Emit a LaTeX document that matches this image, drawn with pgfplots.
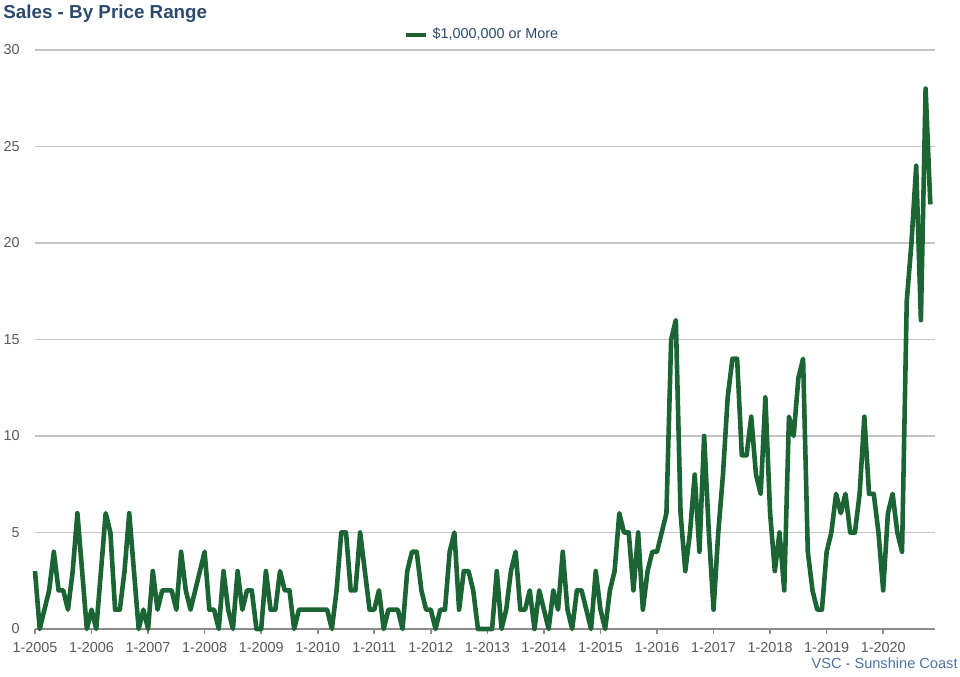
\documentclass[border=0pt]{standalone}
\usepackage{pgfplots}
\pgfplotsset{compat=1.18}
\usepackage{fontspec}
\setmainfont{Liberation Sans}

\definecolor{linegreen}{HTML}{1B6535}
\definecolor{titleblue}{HTML}{2B4A6F}
\definecolor{footblue}{HTML}{4A72A6}
\definecolor{tickgray}{HTML}{595959}
\definecolor{gridgray}{HTML}{C4C4C4}
\definecolor{axisgray}{HTML}{8C8C8C}

% monthly sales, month 0 = Jan 2005
\pgfplotstableread{
m v
0 3
1 0
2 1
3 2
4 4
5 2
6 2
7 1
8 3
9 6
10 3
11 0
12 1
13 0
14 3
15 6
16 5
17 1
18 1
19 3
20 6
21 3
22 0
23 1
24 0
25 3
26 1
27 2
28 2
29 2
30 1
31 4
32 2
33 1
34 2
35 3
36 4
37 1
38 1
39 0
40 3
41 1
42 0
43 3
44 1
45 2
46 2
47 0
48 0
49 3
50 1
51 1
52 3
53 2
54 2
55 0
56 1
57 1
58 1
59 1
60 1
61 1
62 1
63 0
64 2
65 5
66 5
67 2
68 2
69 5
70 3
71 1
72 1
73 2
74 0
75 1
76 1
77 1
78 0
79 3
80 4
81 4
82 2
83 1
84 1
85 0
86 1
87 1
88 4
89 5
90 1
91 3
92 3
93 2
94 0
95 0
96 0
97 0
98 3
99 0
100 1
101 3
102 4
103 1
104 1
105 2
106 0
107 2
108 1
109 0
110 2
111 1
112 4
113 1
114 0
115 2
116 2
117 1
118 0
119 3
120 1
121 0
122 2
123 3
124 6
125 5
126 5
127 2
128 5
129 1
130 3
131 4
132 4
133 5
134 6
135 15
136 16
137 6
138 3
139 5
140 8
141 4
142 10
143 5
144 1
145 5
146 8
147 12
148 14
149 14
150 9
151 9
152 11
153 8
154 7
155 12
156 6
157 3
158 5
159 2
160 11
161 10
162 13
163 14
164 4
165 2
166 1
167 1
168 4
169 5
170 7
171 6
172 7
173 5
174 5
175 7
176 11
177 7
178 7
179 5
180 2
181 6
182 7
183 5
184 4
185 17
186 20
187 24
188 16
189 28
190 22
}\sales

\begin{document}
\begin{tikzpicture}[x=0.5bp,y=0.5bp]
\path[use as bounding box] (0,0) rectangle (960,677);

\begin{axis}[
    at={(17.5bp,24bp)}, anchor=south west,
    scale only axis, width=450bp, height=289.5bp,
    xmin=0, xmax=191, ymin=0, ymax=30,
    ytick={0,5,...,30},
    xtick={0,12,...,180},
    xticklabels={1-2005,1-2006,1-2007,1-2008,1-2009,1-2010,1-2011,1-2012,
                 1-2013,1-2014,1-2015,1-2016,1-2017,1-2018,1-2019,1-2020},
    ymajorgrids, grid style={gridgray, line width=0.6bp},
    axis x line*=bottom, axis y line*=left,
    y axis line style={draw=none},
    x axis line style={axisgray, line width=1bp, -},
    ytick style={draw=none},
    xtick style={axisgray, line width=0.8bp},
    tick align=outside, major tick length=2.5bp,
    tick label style={font=\fontsize{7.2bp}{8.6bp}\selectfont, text=tickgray},
    yticklabel style={inner sep=0pt, xshift=-5bp},
    xticklabel style={inner sep=0pt, yshift=-4bp},
    /pgf/number format/assume math mode=true,
    clip=false,
    legend style={at={(0.4978,1)}, anchor=center, yshift=7.5bp,
        draw=none, fill=none,
        font=\fontsize{7.2bp}{8.6bp}\selectfont, text=titleblue},
    legend image code/.code={\draw[#1, line width=2.4bp] (0bp,0bp) -- (10bp,0bp);},
]
\addplot[linegreen, line width=2.3bp, line join=round, no marks] table[x=m, y=v] {\sales};
\addlegendentry{\$1,000,000 or More}
\end{axis}

\node[anchor=base west, inner sep=0pt, text=titleblue,
      font=\fontsize{9.4bp}{11bp}\selectfont\bfseries] at (3,658) {Sales - By Price Range};
\node[anchor=base east, inner sep=0pt, text=footblue,
      font=\fontsize{7.3bp}{8.6bp}\selectfont] at (958,8) {VSC - Sunshine Coast};
\end{tikzpicture}
\end{document}
